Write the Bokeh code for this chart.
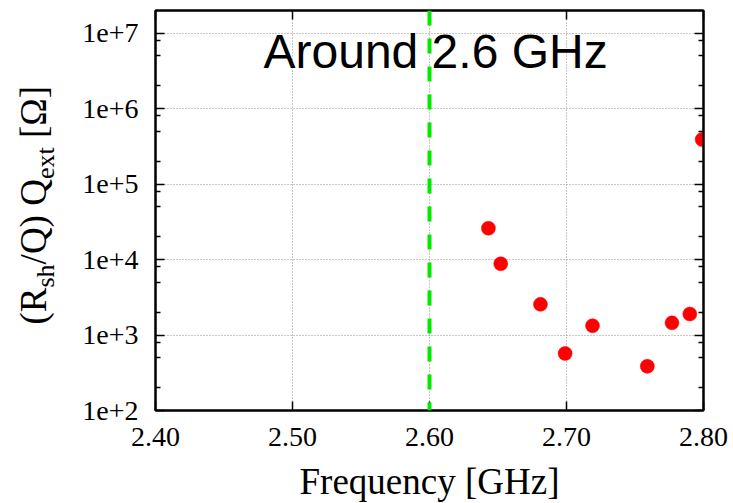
import numpy as np
from bokeh.plotting import figure
from bokeh.layouts import row, column
from bokeh.models import (LogAxis, LinearAxis, FixedTicker, CustomJSTickFormatter,
                          PrintfTickFormatter, Span, Label, Range1d)
from bokeh.embed import file_html
from bokeh.resources import INLINE

# ---- data ----
freq_ghz = [2.643, 2.652, 2.681, 2.699, 2.719, 2.759, 2.777, 2.790, 2.799]
rq_qext = [2.6e4, 8.8e3, 2.55e3, 5.7e2, 1.33e3, 3.85e2, 1.45e3, 1.9e3, 3.9e5]

x_range = (2.40, 2.80)
y_range = (1e2, 2e7)
x_ticks = [2.40, 2.50, 2.60, 2.70, 2.80]
y_decades = [2, 3, 4, 5, 6, 7]
y_minor_mult = [2, 5, 8]
marker_freq = 2.60
title_text = "Around 2.6 GHz"
x_label = "Frequency [GHz]"
# y label pieces: (text, is_subscript, leading gap in em)
y_label_parts = [("(R", False, 0.0), ("sh", True, 0.0), ("/Q) Q", False, 0.0),
                 ("ext", True, 0.0), ("[\u03a9]", False, 0.25)]

y_ticks = [10.0 ** d for d in y_decades]
y_minor = [m * 10.0 ** d for d in y_decades for m in y_minor_mult if m * 10.0 ** d < y_range[1]]

SERIF = "Liberation Serif"
SANS = "Liberation Sans"

# ---- layout geometry (pixels) ----
W, H = 733, 503
FRAME_L, FRAME_R, FRAME_T, FRAME_B = 155, 703, 10, 410
LAB_W = 62            # width of the y-label strip
TOP_H = 463           # height of the row holding the plot
BASE_SHIFT = 0.354    # anchor-to-baseline correction (fraction of font size)


def bare(width, height, xr, yr, **borders):
    f = figure(width=width, height=height, x_range=Range1d(*xr), y_range=Range1d(*yr),
               x_axis_location=None, y_axis_location=None, output_backend="svg",
               toolbar_location=None, outline_line_color=None, **borders)
    f.grid.visible = False
    f.background_fill_color = "white"
    f.border_fill_color = "white"
    return f


# ---- y label strip (frame aligned with the main frame; data units = pixels from bottom) ----
ylab = bare(LAB_W, TOP_H, (0, LAB_W), (TOP_H - FRAME_B, TOP_H - FRAME_T),
            min_border_left=0, min_border_right=0,
            min_border_top=FRAME_T, min_border_bottom=TOP_H - FRAME_B)

char_w = {"(": .333, "R": .667, "s": .389, "h": .5, "/": .278, "Q": .722, ")": .333, " ": .25,
          "e": .444, "x": .5, "t": .278, "[": .333, "\u03a9": .768, "]": .333}
big_size, sub_size = 37, 26
big_base_x, sub_base_x = 46, 54
pos = TOP_H - 324.0
for txt, sub, gap in y_label_parts:
    fs = sub_size if sub else big_size
    bx = sub_base_x if sub else big_base_x
    pos += gap * fs
    ylab.add_layout(Label(x=bx - BASE_SHIFT * fs, y=pos, angle=np.pi / 2, text=txt,
                          text_font=SERIF, text_font_size=f"{fs}px", text_color="black",
                          text_align="left", text_baseline="alphabetic"))
    pos += sum(char_w.get(c, 0.5) for c in txt) * fs

# ---- main plot ----
p = figure(width=W - LAB_W, height=TOP_H,
           x_range=Range1d(*x_range), y_range=Range1d(*y_range),
           y_axis_type="log", output_backend="svg", toolbar_location=None,
           min_border_left=FRAME_L - LAB_W, min_border_right=W - FRAME_R,
           min_border_top=FRAME_T, min_border_bottom=TOP_H - FRAME_B)
p.background_fill_color = "white"
p.border_fill_color = "white"
p.outline_line_color = "black"
p.outline_line_width = 2

xt = FixedTicker(ticks=x_ticks, minor_ticks=[])
yt = FixedTicker(ticks=y_ticks, minor_ticks=y_minor)

bottom_axis = p.xaxis[0]
left_axis = p.yaxis[0]
bottom_axis.ticker = xt
left_axis.ticker = yt
p.xgrid[0].ticker = xt
p.ygrid[0].ticker = yt
for g in (p.xgrid[0], p.ygrid[0]):
    g.grid_line_color = "#8f8f8f"
    g.grid_line_dash = "1 2"
    g.grid_line_width = 1

top_axis = LinearAxis(ticker=xt, formatter=PrintfTickFormatter(format="%.2f"))
right_axis = LogAxis(ticker=yt, formatter=CustomJSTickFormatter(code="return '1e+' + Math.round(Math.log10(tick));"))
p.add_layout(top_axis, "above")
p.add_layout(right_axis, "right")

for ax in (bottom_axis, left_axis, top_axis, right_axis):
    ax.axis_line_color = "black"
    ax.axis_line_width = 2
    ax.major_tick_in = 9
    ax.major_tick_out = 0
    ax.minor_tick_in = 5
    ax.minor_tick_out = 0
    ax.major_tick_line_color = "black"
    ax.major_tick_line_width = 1.5
    ax.minor_tick_line_color = "black"
    ax.minor_tick_line_width = 1.5
    ax.major_label_text_font = SERIF
    ax.major_label_text_color = "black"

for ax in (top_axis, right_axis):
    ax.major_label_text_font_size = "1px"
    ax.major_label_text_color = None
    ax.major_label_standoff = 0

bottom_axis.formatter = PrintfTickFormatter(format="%.2f")
bottom_axis.major_label_text_font_size = "28px"
bottom_axis.major_label_standoff = 17

left_axis.formatter = CustomJSTickFormatter(code="return '1e+' + Math.round(Math.log10(tick));")
left_axis.major_label_text_font_size = "28px"
left_axis.major_label_standoff = 17

p.add_layout(Span(location=marker_freq, dimension="height", line_color="#00ea00",
                  line_width=4, line_dash="15 13"))

p.scatter(freq_ghz, rq_qext, size=14, fill_color="#ff0000", line_color="#ff0000", line_width=0.5)

title_fs = 48
p.add_layout(Label(x=x_range[0], y=y_range[1], x_offset=263 - FRAME_L,
                   y_offset=-(68 - FRAME_T) + BASE_SHIFT * title_fs, text=title_text,
                   text_font=SANS, text_font_size=f"{title_fs}px", text_color="black",
                   text_align="left", text_baseline="alphabetic"))

# ---- x label strip (frame aligned horizontally with the main frame) ----
STRIP_H = H - TOP_H
xlab = bare(W, STRIP_H, (FRAME_L, FRAME_R), (0, STRIP_H),
            min_border_left=FRAME_L, min_border_right=W - FRAME_R,
            min_border_top=0, min_border_bottom=0)
xlab_fs = 37
xlab.add_layout(Label(x=(FRAME_L + FRAME_R) / 2, y=(H - 494) + BASE_SHIFT * xlab_fs, text=x_label,
                      text_font=SERIF, text_font_size=f"{xlab_fs}px", text_color="black",
                      text_align="center", text_baseline="alphabetic"))

layout = column(row(ylab, p), xlab)
open("out.html", "w").write(file_html(layout, INLINE))
